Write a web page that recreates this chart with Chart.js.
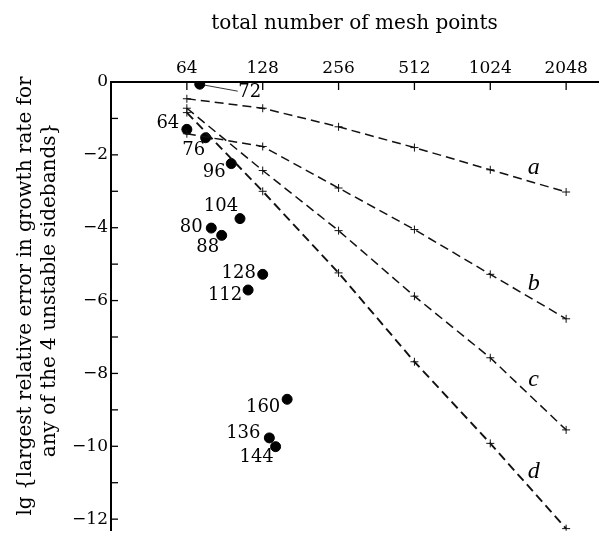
<!DOCTYPE html>
<html>
<head>
<meta charset="utf-8">
<script src="https://cdn.jsdelivr.net/npm/chart.js@4.4.0/dist/chart.umd.min.js"></script>
<style>
body { margin: 0; background: #fff; }
</style>
</head>
<body>
<canvas id="myChart" width="604" height="544"></canvas>
<script>
// mesh points (plotted as log2 on the top axis)
var meshTicks = [64, 128, 256, 512, 1024, 2048]
var curveA = [-0.46, -0.72, -1.23, -1.80, -2.41, -3.02]
var curveB = [-1.42, -1.77, -2.91, -4.05, -5.28, -6.50]
var curveC = [-0.72, -2.43, -4.08, -5.88, -7.57, -9.55]
var curveD = [-0.84, -3.00, -5.24, -7.68, -9.92, -12.26]
var curveNames = ['a', 'b', 'c', 'd']

// single runs, labelled with their mesh size
var dotMesh = [72, 64, 76, 96, 104, 80, 88, 128, 112, 160, 136, 144]
var dotError = [-0.06, -1.30, -1.53, -2.24, -3.75, -4.01, -4.21, -5.28, -5.71, -8.71, -9.77, -10.01]

var yTicks = [0, -2, -4, -6, -8, -10, -12]
var xTitle = 'total number of mesh points'
var yTitle = ['lg {largest relative error in growth rate for', 'any of the 4 unstable sidebands}']

// where each dot label sits relative to its dot (px)
var dotLabelShift = {
    72: [50, 8], 64: [-19, -6], 76: [-12, 13], 96: [-17, 9], 104: [-19, -12], 80: [-20, -1],
    88: [-14, 12], 128: [-24, -1], 112: [-23, 5], 160: [-24, 8], 136: [-26, -5], 144: [-19, 11]
}

var serif = '"DejaVu Serif", serif'

function curveData(vals) {
    return meshTicks.map((n, i) => ({ x: Math.log2(n), y: vals[i] }))
}

var curves = [curveA, curveB, curveC, curveD]
var datasets = curves.map((vals, i) => ({
    type: 'line',
    label: curveNames[i],
    data: curveData(vals),
    borderColor: '#111',
    borderWidth: i == 3 ? 1.9 : 1.5,
    borderDash: [9, 5],
    pointStyle: 'cross',
    pointRadius: 4,
    pointBorderWidth: 1,
    pointBorderColor: '#111',
    fill: false,
    tension: 0
}))
datasets.push({
    type: 'scatter',
    label: 'runs',
    data: dotMesh.map((n, i) => ({ x: Math.log2(n), y: dotError[i] })),
    pointRadius: 5,
    backgroundColor: '#000',
    borderColor: '#000'
})

// inward tick marks, text labels, side title
var decorations = {
    id: 'decorations',
    afterDraw(chart) {
        var ctx = chart.ctx
        var xs = chart.scales.x, ys = chart.scales.y
        var area = chart.chartArea
        ctx.save()
        ctx.strokeStyle = '#000'
        ctx.lineWidth = 1.3
        meshTicks.forEach(n => {
            var px = xs.getPixelForValue(Math.log2(n))
            ctx.beginPath(); ctx.moveTo(px, area.top); ctx.lineTo(px, area.top + 8); ctx.stroke()
        })
        for (var v = 0; v >= -12; v--) {
            var py = ys.getPixelForValue(v)
            ctx.beginPath(); ctx.moveTo(area.left, py); ctx.lineTo(area.left + 7, py); ctx.stroke()
        }

        // dot labels
        ctx.fillStyle = '#000'
        ctx.font = '18px ' + serif
        ctx.textAlign = 'center'
        ctx.textBaseline = 'middle'
        dotMesh.forEach((n, i) => {
            var px = xs.getPixelForValue(Math.log2(n))
            var py = ys.getPixelForValue(dotError[i])
            var s = dotLabelShift[n]
            ctx.fillText(String(n), px + s[0], py + s[1])
            if (n == 72) {
                ctx.lineWidth = 0.8
                ctx.beginPath(); ctx.moveTo(px + 5, py + 1); ctx.lineTo(px + s[0] - 12, py + s[1] - 1); ctx.stroke()
            }
        })

        // curve names just above each line
        ctx.font = 'italic 24px "Liberation Serif", serif'
        ctx.textBaseline = 'alphabetic'
        var lx = 10.48
        curves.forEach((vals, i) => {
            var yv = vals[4] + (vals[5] - vals[4]) * (lx - 10)
            ctx.fillText(curveNames[i], xs.getPixelForValue(lx) + 7, ys.getPixelForValue(yv) - 6)
        })

        // y axis title, two rotated lines
        ctx.font = '20px ' + serif
        ctx.translate(24, 296)
        ctx.rotate(-Math.PI / 2)
        ctx.fillText(yTitle[0], 0, 7)
        ctx.fillText(yTitle[1], 6, 31)
        ctx.restore()
    }
}

Chart.defaults.font.family = serif
Chart.defaults.color = '#000'

new Chart(document.getElementById('myChart'), {
    data: { datasets: datasets },
    options: {
        responsive: false,
        animation: false,
        layout: { padding: 0 },
        plugins: { legend: { display: false }, tooltip: { enabled: false } },
        scales: {
            x: {
                type: 'linear',
                position: 'top',
                min: 5,
                max: 11.42,
                afterBuildTicks: s => { s.ticks = meshTicks.map(n => ({ value: Math.log2(n) })) },
                afterFit: s => { s.height = 82 },
                ticks: {
                    font: { size: 17 },
                    padding: 3,
                    maxRotation: 0,
                    callback: v => String(Math.round(Math.pow(2, v)))
                },
                grid: { drawOnChartArea: false, drawTicks: false },
                border: { display: true, color: '#000', width: 2 },
                title: { display: true, text: xTitle, font: { size: 20 }, padding: { top: 12, bottom: 0 } }
            },
            y: {
                type: 'linear',
                min: -12.32,
                max: 0,
                afterBuildTicks: s => { s.ticks = yTicks.map(v => ({ value: v })) },
                afterFit: s => { s.width = 111 },
                ticks: {
                    font: { size: 17 },
                    padding: 3,
                    callback: v => v == 0 ? '0' : '\u2212' + Math.abs(v)
                },
                grid: { drawOnChartArea: false, drawTicks: false },
                border: { display: true, color: '#000', width: 2 }
            }
        }
    },
    plugins: [decorations]
})
</script>
</body>
</html>
